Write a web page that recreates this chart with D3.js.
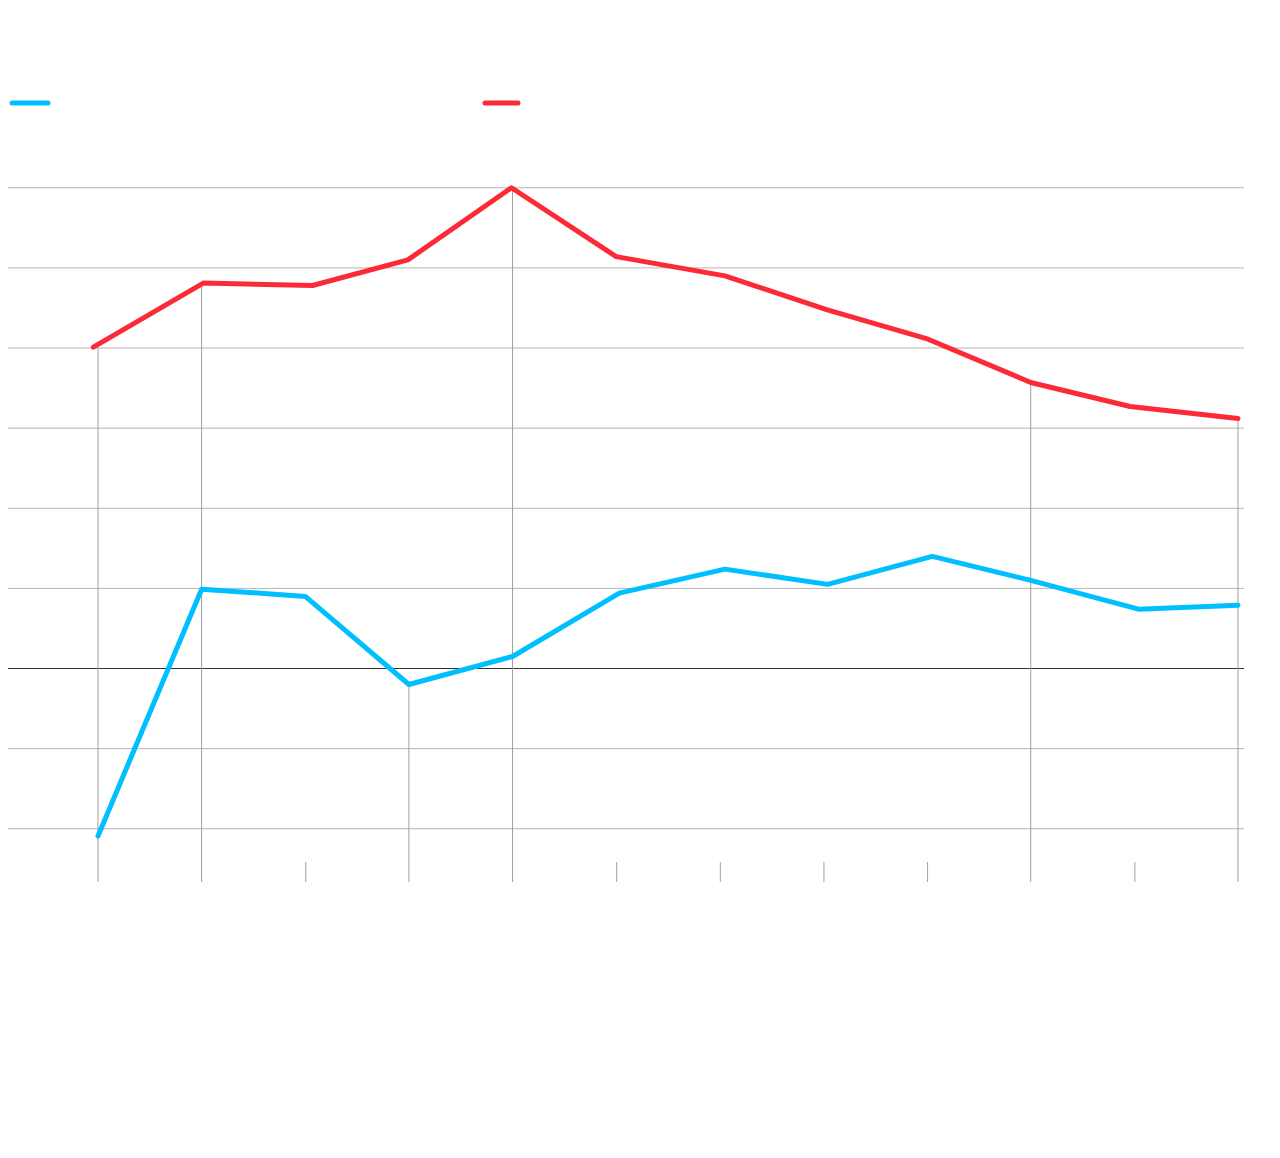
<!DOCTYPE html>
<html>
<head>
<meta charset="utf-8">
<script src="https://cdn.jsdelivr.net/npm/d3@7"></script>
<style>
  html, body { margin: 0; padding: 0; background: #fff; }
  svg { display: block; }
</style>
</head>
<body>
<svg id="chart" width="1280" height="1158"></svg>
<script>
// ---- data ----
const periods = [0, 1, 2, 3, 4, 5, 6, 7, 8, 9, 10, 11];
const majorPeriods = [0, 1, 3, 4, 9, 11];
const yTicks = [-2, -1, 0, 1, 2, 3, 4, 5, 6];
const redX = [-0.045, 1.016, 2.07, 2.99, 3.99, 5.0, 6.05, 7.03, 8.01, 9.0, 9.96, 11.0];
const redValues = [4.01, 4.81, 4.78, 5.10, 6.0, 5.14, 4.90, 4.48, 4.11, 3.57, 3.27, 3.12];
const blueX = [0, 1.0, 2.0, 3.0, 4.0, 5.03, 6.05, 7.04, 8.05, 9.0, 10.04, 11.0];
const blueValues = [-2.09, 0.99, 0.90, -0.20, 0.15, 0.94, 1.24, 1.05, 1.40, 1.10, 0.74, 0.79];
const dropFrom = { 0: "red", 1: "red", 3: "blue", 4: "red", 9: "red", 11: "red" };

const BLUE = "#00bfff";
const RED = "#fb2a36";

const svg = d3.select("#chart");

const x = d3.scaleLinear().domain([0, 11]).range([98, 1238]);
const y = d3.scaleLinear().domain([-2, 6]).range([828.75, 187.75]);

// gridlines
const grid = svg.append("g")
  .attr("transform", "translate(8,0)")
  .call(d3.axisLeft(y).tickValues(yTicks).tickSize(-1236).tickFormat(""));
grid.select(".domain").remove();
grid.selectAll(".tick").attr("transform", d => `translate(0,${y(d)})`);
grid.selectAll(".tick line")
  .attr("stroke", d => d === 0 ? "#333" : "#b5b5b5")
  .attr("stroke-width", 1);

// minor ticks along bottom
const minor = periods.filter(p => !majorPeriods.includes(p));
const xAxis = svg.append("g")
  .attr("transform", "translate(0,862)")
  .call(d3.axisBottom(x).tickValues(minor).tickSize(20).tickFormat(""));
xAxis.select(".domain").remove();
xAxis.selectAll(".tick line").attr("stroke", "#a0a0a0");

// drop lines for major periods
svg.append("g").selectAll("line")
  .data(majorPeriods)
  .join("line")
  .attr("x1", d => x(d)).attr("x2", d => x(d))
  .attr("y1", d => y(dropFrom[d] === "red" ? redValues[d] : blueValues[d]))
  .attr("y2", 882)
  .attr("stroke", "#a0a0a0")
  .attr("stroke-width", 1);

// lines
const line = d3.line().x(d => x(d[0])).y(d => y(d[1]));
const redData = redX.map((v, i) => [v, redValues[i]]);
const blueData = blueX.map((v, i) => [v, blueValues[i]]);

svg.append("path").datum(blueData)
  .attr("d", line).attr("fill", "none")
  .attr("stroke", BLUE).attr("stroke-width", 5)
  .attr("stroke-linecap", "round").attr("stroke-linejoin", "round");

svg.append("path").datum(redData)
  .attr("d", line).attr("fill", "none")
  .attr("stroke", RED).attr("stroke-width", 5)
  .attr("stroke-linecap", "round").attr("stroke-linejoin", "round");

// legend swatches
const legend = [{ c: BLUE, x1: 12, x2: 48 }, { c: RED, x1: 485, x2: 518 }];
svg.append("g").selectAll("line")
  .data(legend)
  .join("line")
  .attr("x1", d => d.x1).attr("x2", d => d.x2)
  .attr("y1", 103).attr("y2", 103)
  .attr("stroke", d => d.c).attr("stroke-width", 5)
  .attr("stroke-linecap", "round");
</script>
</body>
</html>
